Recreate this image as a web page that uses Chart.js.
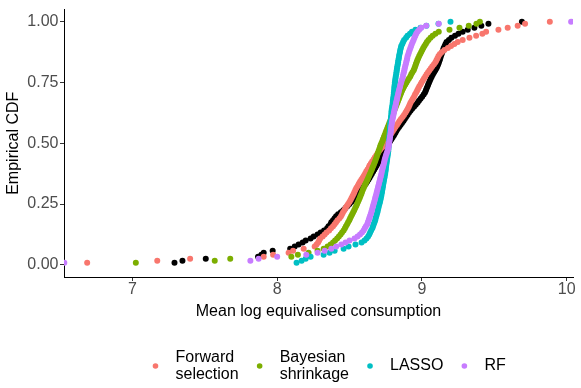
<!DOCTYPE html>
<html>
<head>
<meta charset="utf-8">
<script src="https://cdn.jsdelivr.net/npm/chart.js@4.4.1/dist/chart.umd.min.js"></script>
<style>
html, body { margin: 0; padding: 0; background: #ffffff; }
#wrap { width: 581px; height: 388px; }
canvas { display: block; }
</style>
</head>
<body>
<div id="wrap"><canvas id="chart" width="581" height="388"></canvas></div>
<script>
// ---- data (x values of each empirical CDF) ----
const seriesNames = ['Forward selection', 'Bayesian shrinkage', 'LASSO', 'RF'];
const legendLines = [['Forward', 'selection'], ['Bayesian', 'shrinkage'], ['LASSO'], ['RF']];
const seriesColors = ['#F8766D', '#7CAE00', '#00BFC4', '#C77CFF'];
const observedColor = '#000000';

const forwardX = [6.688,7.172,7.399,7.907,7.972,8.079,8.110,8.183,8.259,8.272,
8.283,8.290,8.297,8.314,8.328,8.341,8.359,8.372,8.386,8.397,
8.407,8.417,8.431,8.441,8.448,8.455,8.464,8.472,8.481,8.490,
8.499,8.507,8.514,8.521,8.528,8.534,8.541,8.548,8.557,8.564,
8.572,8.581,8.590,8.599,8.607,8.615,8.624,8.633,8.638,8.647,
8.656,8.666,8.674,8.684,8.693,8.703,8.714,8.726,8.736,8.746,
8.755,8.762,8.771,8.780,8.790,8.799,8.808,8.817,8.827,8.836,
8.845,8.855,8.866,8.876,8.886,8.894,8.902,8.909,8.915,8.921,
8.929,8.937,8.945,8.952,8.960,8.967,8.974,8.981,8.990,8.997,
9.006,9.014,9.023,9.032,9.042,9.052,9.062,9.072,9.083,9.093,
9.100,9.107,9.114,9.124,9.138,9.155,9.179,9.201,9.224,9.247,
9.281,9.328,9.374,9.417,9.443,9.528,9.592,9.661,9.712,9.883];

const bayesianX = [7.024,7.569,7.676,8.098,8.143,8.217,8.279,8.321,8.348,8.369,
8.386,8.400,8.414,8.426,8.438,8.448,8.459,8.468,8.475,8.483,
8.490,8.498,8.504,8.511,8.518,8.525,8.532,8.539,8.546,8.552,
8.558,8.564,8.570,8.575,8.581,8.586,8.592,8.598,8.604,8.610,
8.617,8.623,8.629,8.635,8.641,8.648,8.654,8.659,8.665,8.670,
8.676,8.681,8.686,8.690,8.695,8.700,8.705,8.710,8.714,8.720,
8.726,8.731,8.737,8.742,8.748,8.753,8.759,8.764,8.770,8.775,
8.781,8.786,8.792,8.797,8.803,8.808,8.813,8.819,8.824,8.830,
8.835,8.841,8.846,8.852,8.857,8.863,8.870,8.877,8.885,8.893,
8.901,8.910,8.919,8.926,8.934,8.943,8.948,8.953,8.958,8.963,
8.968,8.974,8.981,8.988,8.995,9.002,9.009,9.017,9.026,9.034,
9.045,9.059,9.074,9.093,9.116,9.190,9.259,9.323,9.376,9.400];

const lassoX = [8.134,8.169,8.197,8.231,8.321,8.362,8.397,8.459,8.493,8.541,
8.583,8.603,8.617,8.628,8.636,8.642,8.649,8.657,8.662,8.667,
8.672,8.677,8.680,8.684,8.688,8.692,8.695,8.699,8.702,8.706,
8.710,8.713,8.716,8.719,8.721,8.724,8.726,8.729,8.731,8.733,
8.736,8.738,8.741,8.743,8.746,8.748,8.750,8.751,8.753,8.755,
8.757,8.759,8.761,8.763,8.765,8.767,8.768,8.769,8.770,8.771,
8.772,8.774,8.775,8.776,8.777,8.778,8.779,8.780,8.781,8.782,
8.783,8.785,8.786,8.788,8.789,8.790,8.792,8.794,8.797,8.798,
8.799,8.801,8.803,8.805,8.806,8.808,8.809,8.810,8.812,8.813,
8.815,8.817,8.819,8.822,8.824,8.826,8.828,8.830,8.833,8.835,
8.837,8.840,8.842,8.845,8.848,8.850,8.854,8.857,8.864,8.870,
8.877,8.890,8.900,8.917,8.931,8.955,8.990,9.031,9.114,9.197];

const rfX = [6.530,7.815,7.872,8.000,8.201,8.279,8.328,8.374,8.408,8.443,
8.472,8.500,8.534,8.555,8.572,8.586,8.597,8.605,8.613,8.622,
8.627,8.632,8.636,8.641,8.646,8.650,8.654,8.658,8.662,8.666,
8.670,8.674,8.677,8.681,8.685,8.688,8.692,8.696,8.699,8.703,
8.706,8.710,8.713,8.717,8.720,8.723,8.726,8.730,8.733,8.737,
8.740,8.743,8.747,8.751,8.756,8.761,8.766,8.769,8.771,8.773,
8.775,8.777,8.779,8.781,8.783,8.785,8.787,8.788,8.790,8.792,
8.794,8.797,8.800,8.803,8.806,8.809,8.812,8.815,8.819,8.821,
8.825,8.828,8.831,8.835,8.838,8.841,8.845,8.849,8.852,8.856,
8.860,8.865,8.868,8.871,8.875,8.878,8.881,8.884,8.888,8.891,
8.895,8.898,8.901,8.906,8.910,8.915,8.920,8.925,8.930,8.936,
8.942,8.948,8.954,8.960,8.969,8.981,8.995,9.029,9.116,10.030];

const observedX = [7.291,7.346,7.507,7.868,7.891,7.907,7.969,8.090,8.121,8.148,
8.176,8.197,8.231,8.252,8.279,8.300,8.324,8.345,8.355,8.369,
8.374,8.386,8.397,8.407,8.421,8.440,8.457,8.472,8.486,8.499,
8.512,8.525,8.538,8.550,8.561,8.571,8.581,8.592,8.602,8.612,
8.621,8.630,8.638,8.646,8.654,8.663,8.671,8.679,8.687,8.695,
8.701,8.708,8.714,8.721,8.729,8.737,8.746,8.754,8.762,8.771,
8.780,8.789,8.798,8.807,8.816,8.823,8.832,8.842,8.852,8.862,
8.872,8.881,8.890,8.900,8.910,8.921,8.932,8.945,8.957,8.969,
8.979,8.990,9.001,9.012,9.021,9.027,9.032,9.038,9.043,9.049,
9.055,9.061,9.068,9.076,9.084,9.092,9.100,9.106,9.112,9.117,
9.122,9.126,9.131,9.136,9.141,9.146,9.150,9.157,9.163,9.170,
9.186,9.203,9.228,9.252,9.281,9.316,9.362,9.410,9.459,9.690];

const xTickValues = [7, 8, 9, 10];
const yTickValues = [0, 0.25, 0.5, 0.75, 1];
const xTitle = 'Mean log equivalised consumption';
const yTitle = 'Empirical CDF';

// empirical CDF: sorted values, cumulative share
function ecdf(values) {
  const s = values.slice().sort((a, b) => a - b);
  return s.map((v, i) => ({ x: v, y: (i + 1) / s.length }));
}

const FONT = "'Liberation Sans', Arial, Helvetica, sans-serif";
Chart.defaults.font.family = FONT;
Chart.defaults.font.size = 16;

function pointSet(label, values, color, order) {
  return {
    label, data: ecdf(values), order,
    backgroundColor: color, borderColor: color,
    pointRadius: 3, pointHoverRadius: 3, pointBorderWidth: 0,
    showLine: false, clip: 0
  };
}

const datasets = [
  pointSet(seriesNames[3], rfX, seriesColors[3], 1),
  pointSet(seriesNames[2], lassoX, seriesColors[2], 2),
  pointSet(seriesNames[1], bayesianX, seriesColors[1], 3),
  pointSet(seriesNames[0], forwardX, seriesColors[0], 4),
  pointSet('Observed', observedX, observedColor, 5)
];

const ggLegend = {
  id: 'ggLegend',
  afterDraw(chart) {
    const ctx = chart.ctx;
    ctx.save();
    ctx.font = '16px ' + FONT;
    ctx.textBaseline = 'middle';
    ctx.textAlign = 'left';
    const r = 2.8, keyToText = 20, itemGap = 21, lineGap = 17.5;
    const centerX = 329.2, centerY = 366;
    const widths = legendLines.map(ls => Math.max(...ls.map(t => ctx.measureText(t).width)));
    let total = 0;
    widths.forEach(w => { total += r + keyToText + w; });
    total += (widths.length - 1) * (itemGap - r);
    let x = centerX - total / 2 + r;
    legendLines.forEach((ls, i) => {
      ctx.fillStyle = seriesColors[i];
      ctx.beginPath();
      ctx.arc(x, centerY, r, 0, Math.PI * 2);
      ctx.fill();
      ctx.fillStyle = '#000000';
      const y0 = centerY - (ls.length - 1) * lineGap / 2;
      ls.forEach((t, j) => ctx.fillText(t, x + keyToText, y0 + j * lineGap));
      x += keyToText + widths[i] + itemGap;
    });
    ctx.restore();
  }
};

new Chart(document.getElementById('chart'), {
  type: 'scatter',
  data: { datasets },
  options: {
    responsive: false,
    animation: false,
    events: [],
    layout: { padding: { top: 7, right: 8, bottom: 0, left: 0 } },
    plugins: { legend: { display: false }, tooltip: { enabled: false } },
    scales: {
      x: {
        type: 'linear', min: 6.528, max: 10.043,
        afterBuildTicks: s => { s.ticks = xTickValues.map(v => ({ value: v })); },
        afterFit: s => { s.height = 111; },
        grid: { drawOnChartArea: false, drawTicks: true, tickLength: 4, color: '#333333', lineWidth: 1 },
        border: { display: true, color: '#000000', width: 1 },
        ticks: { color: '#4D4D4D', padding: 0.5, maxRotation: 0, autoSkip: false,
                 font: { size: 16, lineHeight: 1 }, callback: v => String(v) },
        title: { display: true, text: xTitle, color: '#000000',
                 font: { size: 16, lineHeight: 1.2 }, padding: { top: 0, bottom: 67 } }
      },
      y: {
        type: 'linear', min: -0.05, max: 1.05,
        afterBuildTicks: s => { s.ticks = yTickValues.map(v => ({ value: v })); },
        afterFit: s => { s.width = 64; },
        grid: { drawOnChartArea: false, drawTicks: true, tickLength: 4, color: '#333333', lineWidth: 1 },
        border: { display: true, color: '#000000', width: 1 },
        ticks: { color: '#4D4D4D', padding: 1.5, font: { size: 16, lineHeight: 1 },
                 callback: v => Number(v).toFixed(2) },
        title: { display: true, text: yTitle, color: '#000000',
                 font: { size: 16, lineHeight: 1.2 }, padding: { top: 4.4, bottom: 0 } }
      }
    }
  },
  plugins: [ggLegend]
});
</script>
</body>
</html>
